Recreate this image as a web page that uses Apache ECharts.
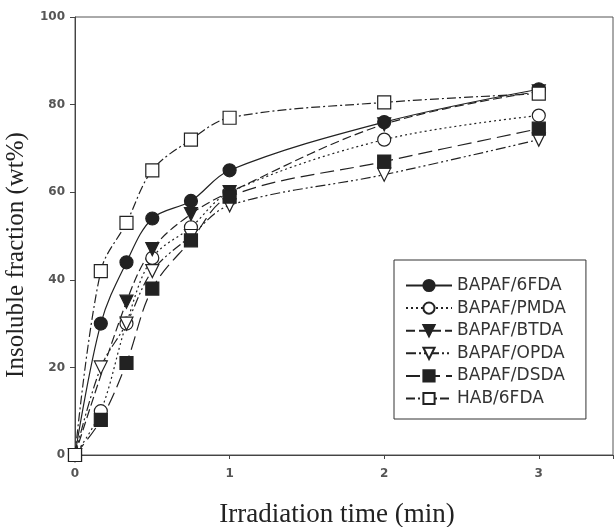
<!DOCTYPE html>
<html>
<head>
<meta charset="utf-8">
<script src="https://cdn.jsdelivr.net/npm/echarts@6/dist/echarts.min.js"></script>
<style>
  html, body { margin: 0; padding: 0; background: #fff; }
  #chartmain { width: 615px; height: 527px; }
</style>
</head>
<body>
<div id="chartmain"></div>
<script>
  // irradiation time (min)
  var timeAll = [0, 0.167, 0.333, 0.5, 0.75, 1, 2, 3];
  var timeBTDA = [0, 0.333, 0.5, 0.75, 1, 2, 3];

  // insoluble fraction (wt%)
  var y6FDA = [0, 30, 44, 54, 58, 65, 76, 83.5];
  var yPMDA = [0, 10, 30, 45, 52, 60, 72, 77.5];
  var yBTDA = [0, 35, 47, 55, 60, 75.5, 83];
  var yOPDA = [0, 20, 30, 42, 50, 57, 64, 72];
  var yDSDA = [0, 8, 21, 38, 49, 59, 67, 74.5];
  var yHAB = [0, 42, 53, 65, 72, 77, 80.5, 82.5];

  var names = ['BAPAF/6FDA', 'BAPAF/PMDA', 'BAPAF/BTDA', 'BAPAF/OPDA', 'BAPAF/DSDA', 'HAB/6FDA'];
  var ink = '#222';

  function pts(xs, ys) {
    var out = [];
    for (var i = 0; i < xs.length; i++) {
      out.push([xs[i], ys[i]]);
    }
    return out;
  }

  function mk(name, data, symbol, filled, dash, rot) {
    return {
      name: name,
      type: 'line',
      data: data,
      smooth: 0.35,
      symbol: symbol,
      symbolSize: 13,
      symbolRotate: rot || 0,
      lineStyle: { color: ink, width: 1.2, type: dash },
      itemStyle: {
        color: filled ? ink : '#fff',
        borderColor: ink,
        borderWidth: 1.2
      }
    };
  }

  var myChart = echarts.init(document.getElementById('chartmain'));
  var option = {
    animation: false,
    backgroundColor: '#fff',
    grid: {
      left: 75, top: 17, right: 2, bottom: 72,
      outerBoundsMode: 'none',
      show: true, borderColor: '#555', borderWidth: 1
    },
    legend: {
      orient: 'vertical',
      left: 394, top: 260,
      itemWidth: 46, itemHeight: 14, itemGap: 5.6,
      borderColor: '#333', borderWidth: 1,
      padding: [17, 20, 12, 11],
      textStyle: { fontFamily: 'DejaVu Sans', fontSize: 17, color: '#333' },
      data: names
    },
    xAxis: {
      type: 'value',
      min: 0, max: 3.48, interval: 1,
      name: 'Irradiation time (min)',
      nameLocation: 'middle',
      nameGap: 46,
      nameTextStyle: { fontFamily: 'Liberation Serif', fontSize: 27, color: '#222', padding: [0, 14, 0, 0] },
      axisLine: { lineStyle: { color: '#444' } },
      axisTick: { length: 4, lineStyle: { color: '#444' } },
      axisLabel: {
        color: '#555', fontFamily: 'DejaVu Sans', fontWeight: 'bold', fontSize: 12, margin: 13,
        formatter: function (v) { return v % 1 === 0 ? v : ''; }
      },
      splitLine: { show: false }
    },
    yAxis: {
      type: 'value',
      min: 0, max: 100, interval: 20,
      name: 'Insoluble fraction (wt%)',
      nameLocation: 'middle',
      nameGap: 36,
      nameTextStyle: { fontFamily: 'Liberation Serif', fontSize: 25, color: '#222', padding: [0, 38, 0, 0] },
      axisLine: { show: true, lineStyle: { color: '#444' } },
      axisTick: { show: true, length: 5, lineStyle: { color: '#444' } },
      axisLabel: { color: '#555', fontFamily: 'DejaVu Sans', fontWeight: 'bold', fontSize: 12, margin: 10 },
      splitLine: { show: false }
    },
    series: [
      mk(names[0], pts(timeAll, y6FDA), 'circle', true, 'solid'),
      mk(names[1], pts(timeAll, yPMDA), 'circle', false, [2, 3]),
      mk(names[2], pts(timeBTDA, yBTDA), 'triangle', true, [9, 4], 180),
      mk(names[3], pts(timeAll, yOPDA), 'triangle', false, [10, 3, 2, 3, 2, 3], 180),
      mk(names[4], pts(timeAll, yDSDA), 'rect', true, [14, 6]),
      mk(names[5], pts(timeAll, yHAB), 'rect', false, [9, 3, 2, 3])
    ]
  };
  myChart.setOption(option);
</script>
</body>
</html>
